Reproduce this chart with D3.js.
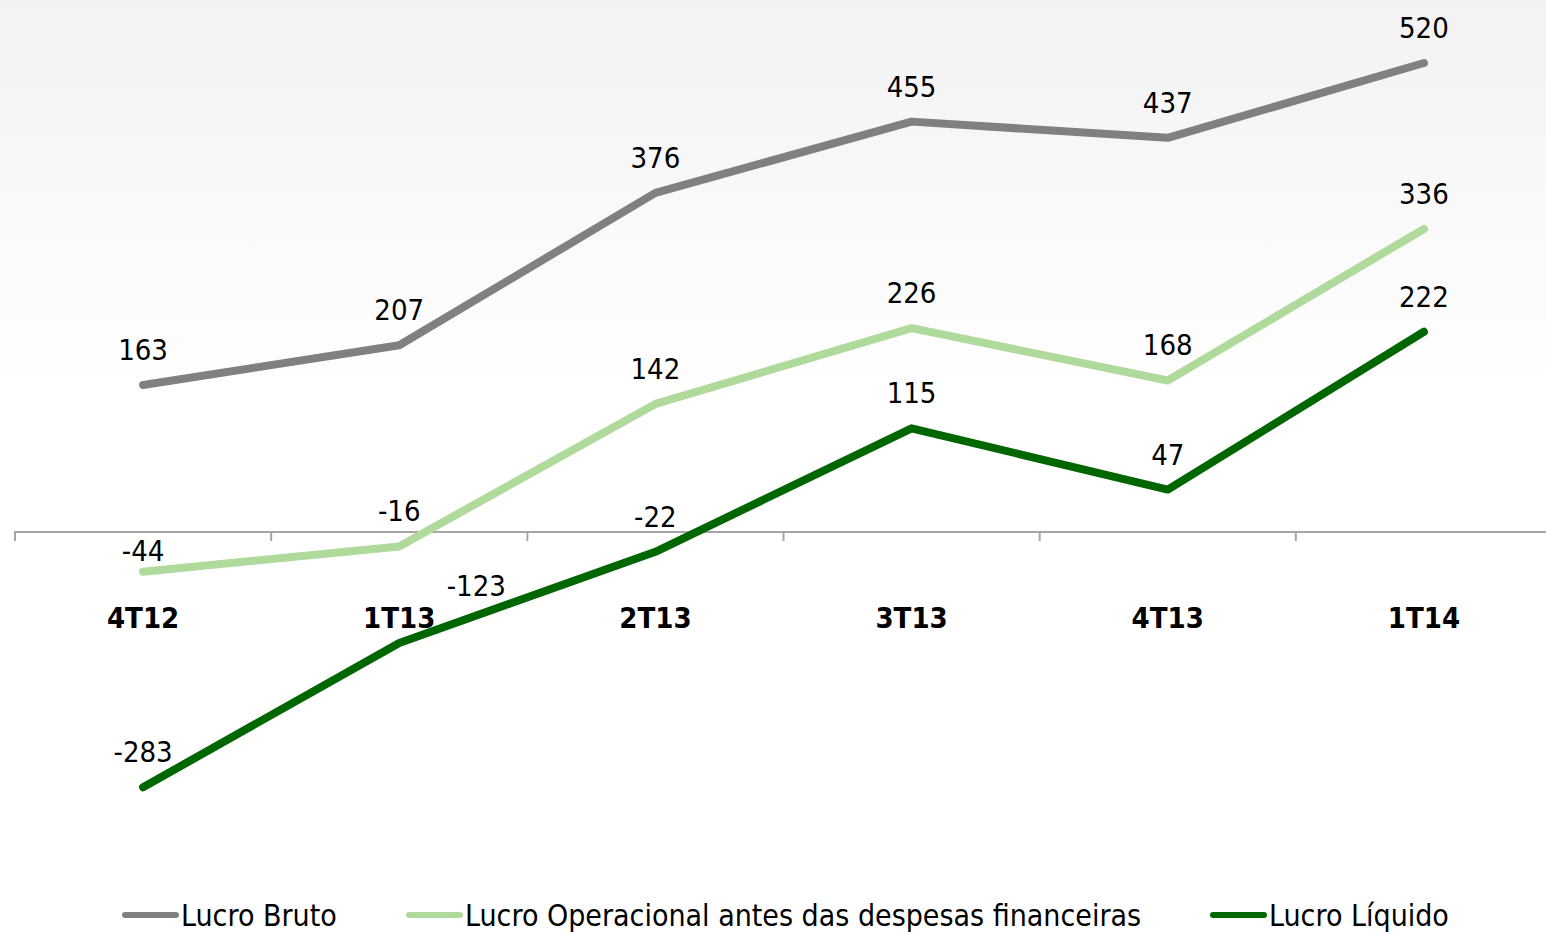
<!DOCTYPE html>
<html>
<head>
<meta charset="utf-8">
<script src="https://cdn.jsdelivr.net/npm/d3@7"></script>
<style>
  html, body { margin: 0; padding: 0; background: #fff; }
  svg { display: block; }
  text { font-family: Tahoma, "DejaVu Sans Condensed", "DejaVu Sans", sans-serif; }
</style>
</head>
<body>
<div id="chart"></div>
<script>
const categories = ["4T12", "1T13", "2T13", "3T13", "4T13", "1T14"];
const seriesNames = ["Lucro Bruto", "Lucro Operacional antes das despesas financeiras", "Lucro Líquido"];
const lucroBruto = [163, 207, 376, 455, 437, 520];
const lucroOperacional = [-44, -16, 142, 226, 168, 336];
const lucroLiquido = [-283, -123, -22, 115, 47, 222];
const seriesColors = ["#808080", "#b0da9c", "#006600"];

const width = 1546, height = 932;

const svg = d3.select("#chart").append("svg")
  .attr("width", width)
  .attr("height", height);

// soft grey wash at the top
const grad = svg.append("defs").append("linearGradient")
  .attr("id", "bg").attr("x1", 0).attr("y1", 0).attr("x2", 0).attr("y2", 1);
grad.append("stop").attr("offset", "0%").attr("stop-color", "#f2f2f2");
grad.append("stop").attr("offset", "42%").attr("stop-color", "#ffffff");
grad.append("stop").attr("offset", "100%").attr("stop-color", "#ffffff");
svg.append("rect").attr("width", width).attr("height", height).attr("fill", "url(#bg)");

const x = d3.scaleBand().domain(categories).range([15, 1552]);
const y = d3.scaleLinear().domain([0, 520]).range([532, 63]);
const cx = d => x(d) + x.bandwidth() / 2;

// axis at zero
const axis = svg.append("g")
  .attr("transform", `translate(0,${y(0)})`)
  .call(d3.axisBottom(x).tickSize(9).tickFormat(""));
axis.select(".domain").attr("stroke", "#a6a6a6").attr("stroke-width", 2)
  .attr("d", `M15,9V0H${width}`);
axis.selectAll(".tick line").remove();
axis.selectAll(".tick").append("line")
  .attr("x1", -x.bandwidth() / 2).attr("x2", -x.bandwidth() / 2)
  .attr("y1", 0).attr("y2", 9)
  .attr("stroke", "#a6a6a6").attr("stroke-width", 2);

svg.append("g").selectAll("text")
  .data(categories)
  .join("text")
  .attr("x", cx)
  .attr("y", 628)
  .attr("text-anchor", "middle")
  .attr("font-size", 29)
  .attr("font-weight", "bold")
  .attr("fill", "#000")
  .text(d => d);

const series = [lucroBruto, lucroOperacional, lucroLiquido].map((vals, i) => ({
  name: seriesNames[i],
  color: seriesColors[i],
  values: vals.map((v, j) => ({ cat: categories[j], v }))
}));

const line = d3.line().x(d => cx(d.cat)).y(d => y(d.v));

svg.append("g").selectAll("path")
  .data(series)
  .join("path")
  .attr("d", d => line(d.values))
  .attr("fill", "none")
  .attr("stroke", d => d.color)
  .attr("stroke-width", 8)
  .attr("stroke-linecap", "round")
  .attr("stroke-linejoin", "round");

// value labels (a couple were nudged by hand in the original)
const labelShift = {
  "Lucro Líquido|1T13": [77, -22],
  "Lucro Operacional antes das despesas financeiras|4T12": [0, 14]
};
series.forEach(s => {
  svg.append("g").selectAll("text")
    .data(s.values)
    .join("text")
    .attr("x", d => cx(d.cat) + ((labelShift[s.name + "|" + d.cat] || [0, 0])[0]))
    .attr("y", d => y(d.v) - 25 + ((labelShift[s.name + "|" + d.cat] || [0, 0])[1]))
    .attr("text-anchor", "middle")
    .attr("font-size", 29)
    .attr("fill", "#000")
    .text(d => d.v);
});

// legend
const legendX = [122, 406, 1210];
const leg = svg.append("g").selectAll("g")
  .data(series)
  .join("g")
  .attr("transform", (d, i) => `translate(${legendX[i]},915)`);
leg.append("line")
  .attr("x1", 3).attr("x2", 54).attr("y1", 0).attr("y2", 0)
  .attr("stroke", d => d.color).attr("stroke-width", 6)
  .attr("stroke-linecap", "round");
leg.append("text")
  .attr("x", 59).attr("y", 11)
  .attr("font-size", 30)
  .attr("fill", "#000")
  .text(d => d.name);
</script>
</body>
</html>
